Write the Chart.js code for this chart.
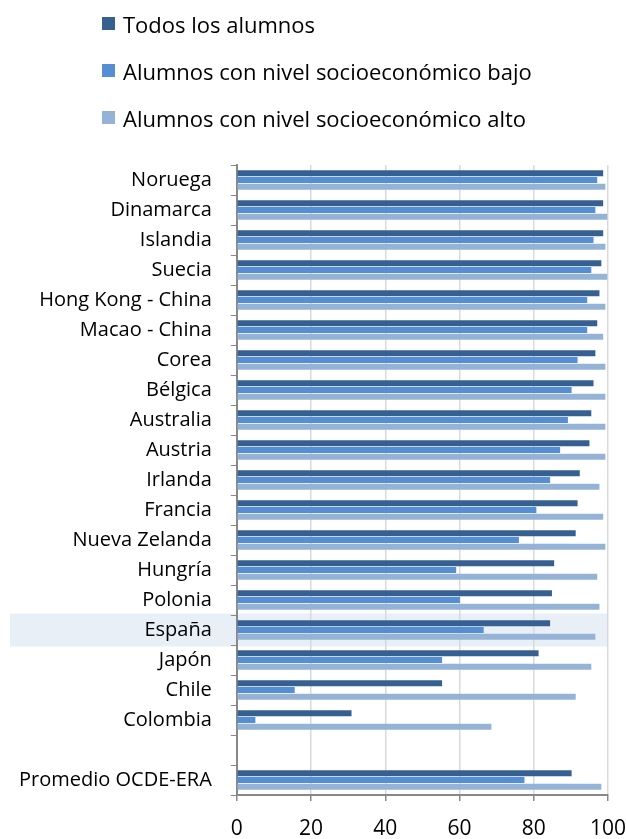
<!DOCTYPE html>
<html>
<head>
<meta charset="utf-8">
<script src="https://cdn.jsdelivr.net/npm/chart.js@4.4.1/dist/chart.umd.min.js"></script>
<style>
  html,body{margin:0;padding:0;background:#fff;}
  #wrap{position:relative;width:626px;height:839px;}
  #legend{position:absolute;left:102px;top:0px;font-family:'Open Sans',sans-serif;font-size:22px;color:#000;}
  #legend .li{height:47px;display:flex;align-items:center;white-space:nowrap;}
  #legend .sw{width:13px;height:13px;margin-right:8px;flex:none;}
</style>
</head>
<body>
<div id="wrap">
  <canvas id="chart" width="626" height="839"></canvas>
  <div id="legend"></div>
</div>
<script>
// ── Data ──
const categories=['Noruega','Dinamarca','Islandia','Suecia','Hong Kong - China','Macao - China','Corea','Bélgica','Australia','Austria','Irlanda','Francia','Nueva Zelanda','Hungría','Polonia','España','Japón','Chile','Colombia','','Promedio OCDE-ERA'];
const seriesNames=['Todos los alumnos','Alumnos con nivel socioeconómico bajo','Alumnos con nivel socioeconómico alto'];
const todos=[98.7,98.7,98.7,98.2,97.7,97.1,96.6,96.1,95.5,95.0,92.4,91.8,91.3,85.5,84.9,84.4,81.3,55.3,30.9,null,90.2];
const bajo=[97.1,96.6,96.1,95.5,94.4,94.4,91.8,90.2,89.2,87.1,84.4,80.7,76.0,59.1,60.1,66.5,55.3,15.6,5.0,null,77.5];
const alto=[99.3,99.8,99.3,99.8,99.3,98.7,99.3,99.3,99.3,99.3,97.7,98.7,99.3,97.1,97.7,96.6,95.5,91.3,68.6,null,98.2];
const xTicks=[0,20,40,60,80,100];
const highlight='España';

const colors=['#376092','#558ed5','#95b3d7'];
const FONT="'Open Sans', sans-serif";

// band behind the highlighted row
const bandPlugin={
  id:'band',
  beforeDraw(chart){
    const y=chart.scales.y, x=chart.scales.x;
    const i=categories.indexOf(highlight);
    if(i<0)return;
    const c=y.getPixelForValue(i);
    const ctx=chart.ctx;
    ctx.save();
    ctx.fillStyle='#e9eff7';
    ctx.fillRect(10,c-16.5,x.right-10,33);
    ctx.restore();
  }
};

const chart=new Chart(document.getElementById('chart'),{
  type:'bar',
  data:{
    labels:categories,
    datasets:[todos,bajo,alto].map((d,i)=>({label:seriesNames[i],data:d,backgroundColor:colors[i],borderWidth:0,barPercentage:0.88,categoryPercentage:0.68}))
  },
  options:{
    indexAxis:'y',
    responsive:false,
    animation:false,
    layout:{padding:{top:165,right:0,left:0,bottom:0}},
    plugins:{legend:{display:false},tooltip:{enabled:false}},
    scales:{
      x:{
        min:0,max:100,
        afterBuildTicks:ax=>{ax.ticks=xTicks.map(v=>({value:v}));},
        afterFit:s=>{s.height=44;s.paddingRight=18;s.paddingLeft=0;},
        grid:{color:'#d9d9d9',lineWidth:1.5,tickColor:'#888',tickLength:6},
        border:{color:'#888',width:2},
        ticks:{color:'#000',font:{family:FONT,size:21},padding:15,maxRotation:0}
      },
      y:{
        afterFit:s=>{s.paddingTop=0;s.paddingBottom=0;},
        grid:{drawOnChartArea:false,tickColor:'#888',tickLength:6,offset:true},
        border:{color:'#888',width:2},
        ticks:{color:'#000',font:{family:FONT,size:20},padding:19,autoSkip:false}
      }
    }
  },
  plugins:[bandPlugin]
});

// ── Legend ──
const legendEl=document.getElementById('legend');
seriesNames.forEach((n,i)=>{
  const row=document.createElement('div');row.className='li';
  const sw=document.createElement('span');sw.className='sw';sw.style.background=colors[i];
  const tx=document.createElement('span');tx.textContent=n;
  row.appendChild(sw);row.appendChild(tx);legendEl.appendChild(row);
});
</script>
</body>
</html>
